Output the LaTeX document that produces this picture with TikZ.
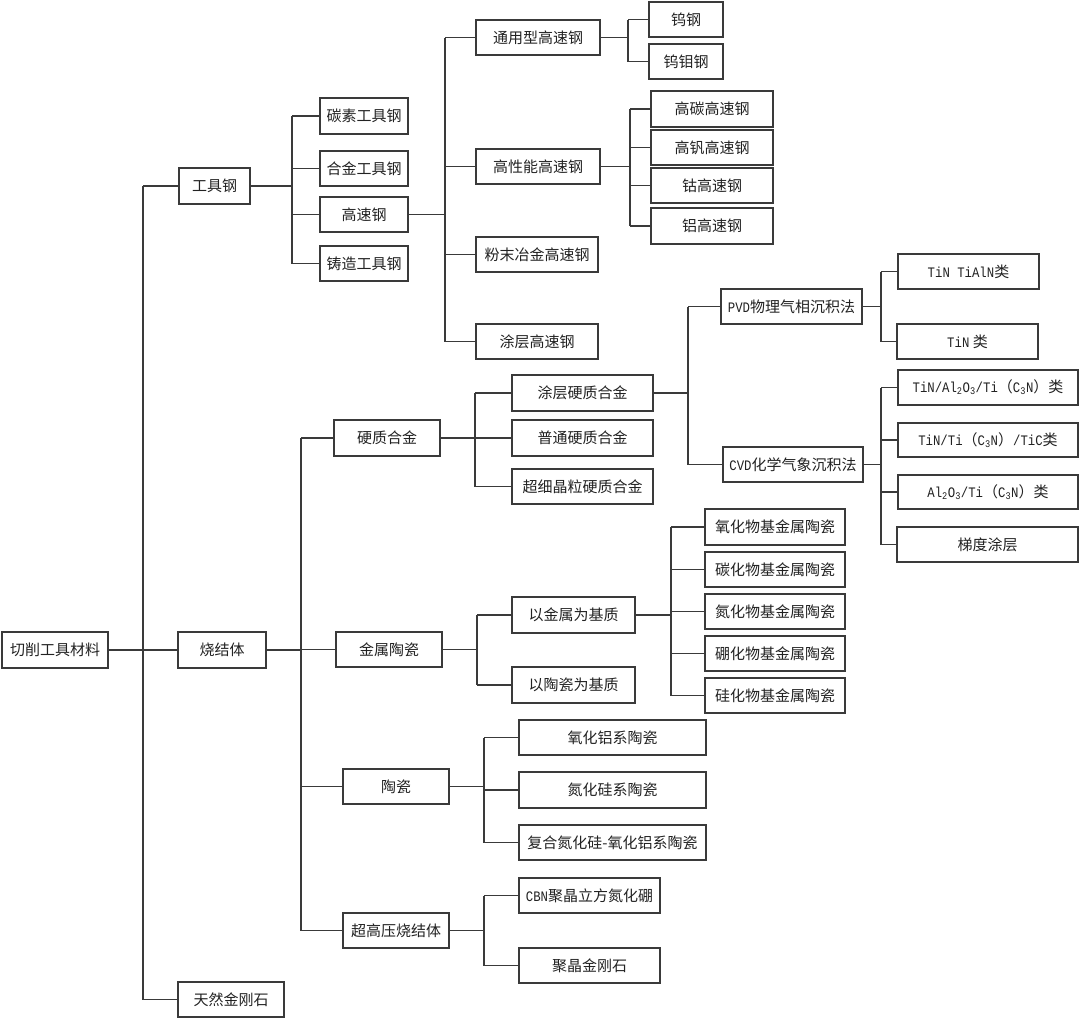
\documentclass[tikz,border=0pt]{standalone}
\usepackage{fontspec}
\setmainfont{Noto Sans CJK SC}
\newfontfamily\latfam[FakeStretch=0.85]{Liberation Mono}
\newcommand{\lat}{\latfam\fontsize{14.5}{16}\selectfont}
\definecolor{ln}{HTML}{3A3A3A}
\definecolor{tx}{HTML}{222222}
\begin{document}
\begin{tikzpicture}[x=1pt,y=-1pt,
  bx/.style={draw=ln,line width=1.3pt,inner sep=0pt,text=tx,font=\fontsize{15}{16}\selectfont,minimum height=35pt,anchor=center},
  cn/.style={draw=ln,line width=1.3pt}]
\useasboundingbox (0,0) rectangle (1080,1020);
\fill[white] (0,0) rectangle (1080,1020);
% level 0/1
\node[bx,minimum width=106pt,minimum height=36pt] (root) at (55,650) {切削工具材料};
\node[bx,minimum width=71pt,minimum height=36pt] (gjg) at (214.5,186) {工具钢};
\node[bx,minimum width=88pt,minimum height=36pt] (sjt) at (222,650) {烧结体};
\node[bx,minimum width=106pt] (trj) at (231,999.5) {天然金刚石};
% tool steel
\node[bx,minimum width=88pt,minimum height=36pt] (tsgj) at (364,116) {碳素工具钢};
\node[bx,minimum width=88pt] (hjgj) at (364,168.5) {合金工具钢};
\node[bx,minimum width=88pt] (gsg) at (364,214.5) {高速钢};
\node[bx,minimum width=88pt] (zzgj) at (364,263.5) {铸造工具钢};
% high speed steel
\node[bx,minimum width=124pt] (tyx) at (538,37.5) {通用型高速钢};
\node[bx,minimum width=124pt] (gxn) at (538,166.5) {高性能高速钢};
\node[bx,minimum width=122pt] (fmyj) at (537,254.5) {粉末冶金高速钢};
\node[bx,minimum width=122pt] (tcgs) at (537,341.5) {涂层高速钢};
\node[bx,minimum width=74pt] (wg) at (686,19.5) {钨钢};
\node[bx,minimum width=74pt] (wmg) at (686,61.5) {钨钼钢};
\node[bx,minimum width=122pt,minimum height=36pt] (gt) at (712,109) {高碳高速钢};
\node[bx,minimum width=122pt] (gf) at (712,147.5) {高钒高速钢};
\node[bx,minimum width=122pt] (gu) at (712,185.5) {钴高速钢};
\node[bx,minimum width=122pt,minimum height=36pt] (lv) at (712,226) {铝高速钢};
% sintered
\node[bx,minimum width=106pt,minimum height=36pt] (yzhj) at (387,438) {硬质合金};
\node[bx,minimum width=106pt] (jstc) at (389,649.5) {金属陶瓷};
\node[bx,minimum width=106pt] (tc) at (396,786.5) {陶瓷};
\node[bx,minimum width=106pt] (cgy) at (396,930.5) {超高压烧结体};
% hard alloy
\node[bx,minimum width=141pt,minimum height=36pt] (tcyz) at (582.5,393) {涂层硬质合金};
\node[bx,minimum width=141pt,minimum height=36pt] (ptyz) at (582.5,438) {普通硬质合金};
\node[bx,minimum width=141pt] (cxjl) at (582.5,486.5) {超细晶粒硬质合金};
\node[bx,minimum width=141pt] (pvd) at (791.5,306.5) {{\lat PVD}物理气相沉积法};
\node[bx,minimum width=140pt] (cvd) at (793,464.5) {{\lat CVD}化学气象沉积法};
\node[bx,minimum width=141pt] (p1) at (968.5,271.5) {{\lat TiN TiAlN}类};
\node[bx,minimum width=141pt] (p2) at (967.5,341.5) {{\lat TiN} 类};
\node[bx,minimum width=180pt] (c1) at (988,387.5) {{\lat TiN/Al\textsubscript{2}O\textsubscript{3}/Ti}（{\lat C\textsubscript{3}N}）类};
\node[bx,minimum width=180pt,minimum height=34pt] (c2) at (988,440) {{\lat TiN/Ti}（{\lat C\textsubscript{3}N}）{\lat /TiC}类};
\node[bx,minimum width=180pt,minimum height=34pt] (c3) at (988,492) {{\lat Al\textsubscript{2}O\textsubscript{3}/Ti}（{\lat C\textsubscript{3}N}）类};
\node[bx,minimum width=181pt] (c4) at (987.5,544.5) {梯度涂层};
% cermet
\node[bx,minimum width=123pt,minimum height=36pt] (yjs) at (573.5,615) {以金属为基质};
\node[bx,minimum width=123pt,minimum height=36pt] (ytc) at (573.5,685) {以陶瓷为基质};
\node[bx,minimum width=140pt,minimum height=36pt] (m1) at (775,527) {氧化物基金属陶瓷};
\node[bx,minimum width=140pt] (m2) at (775,569.5) {碳化物基金属陶瓷};
\node[bx,minimum width=140pt] (m3) at (775,611.5) {氮化物基金属陶瓷};
\node[bx,minimum width=140pt] (m4) at (775,653.5) {硼化物基金属陶瓷};
\node[bx,minimum width=140pt] (m5) at (775,695.5) {硅化物基金属陶瓷};
% ceramics
\node[bx,minimum width=187pt] (k1) at (612.5,737.5) {氧化铝系陶瓷};
\node[bx,minimum width=187pt,minimum height=36pt] (k2) at (612.5,790) {氮化硅系陶瓷};
\node[bx,minimum width=187pt] (k3) at (612.5,842.5) {复合氮化硅-氧化铝系陶瓷};
\node[bx,minimum width=141pt] (u1) at (589.5,895.5) {{\lat CBN}聚晶立方氮化硼};
\node[bx,minimum width=141pt] (u2) at (589.5,965.5) {聚晶金刚石};
% spine coordinates
\coordinate (s0) at (143,0);
\coordinate (s1) at (292,0);
\coordinate (s2) at (445,0);
\coordinate (s3) at (628,0);
\coordinate (s4) at (630,0);
\coordinate (s5) at (301,0);
\coordinate (s6) at (475,0);
\coordinate (s7) at (477,0);
\coordinate (s8) at (671,0);
\coordinate (s9) at (484,0);
\coordinate (s10) at (688,0);
\coordinate (s11) at (881,0);
% connectors
\foreach \p/\s/\first/\last/\kids in {
  root/s0/gjg/trj/{gjg,sjt,trj},
  gjg/s1/tsgj/zzgj/{tsgj,hjgj,gsg,zzgj},
  gsg/s2/tyx/tcgs/{tyx,gxn,fmyj,tcgs},
  tyx/s3/wg/wmg/{wg,wmg},
  gxn/s4/gt/lv/{gt,gf,gu,lv},
  sjt/s5/yzhj/cgy/{yzhj,jstc,tc,cgy},
  yzhj/s6/tcyz/cxjl/{tcyz,ptyz,cxjl},
  jstc/s7/yjs/ytc/{yjs,ytc},
  yjs/s8/m1/m5/{m1,m2,m3,m4,m5},
  tc/s9/k1/k3/{k1,k2,k3},
  cgy/s9/u1/u2/{u1,u2},
  tcyz/s10/pvd/cvd/{pvd,cvd},
  pvd/s11/p1/p2/{p1,p2},
  cvd/s11/c1/c4/{c1,c2,c3,c4}} {
  \draw[cn] (\p.east) -- (\p.east -| \s);
  \draw[cn] (\first.west -| \s) -- (\last.west -| \s);
  \foreach \k in \kids { \draw[cn] (\k.west -| \s) -- (\k.west); }
}
\end{tikzpicture}
\end{document}
